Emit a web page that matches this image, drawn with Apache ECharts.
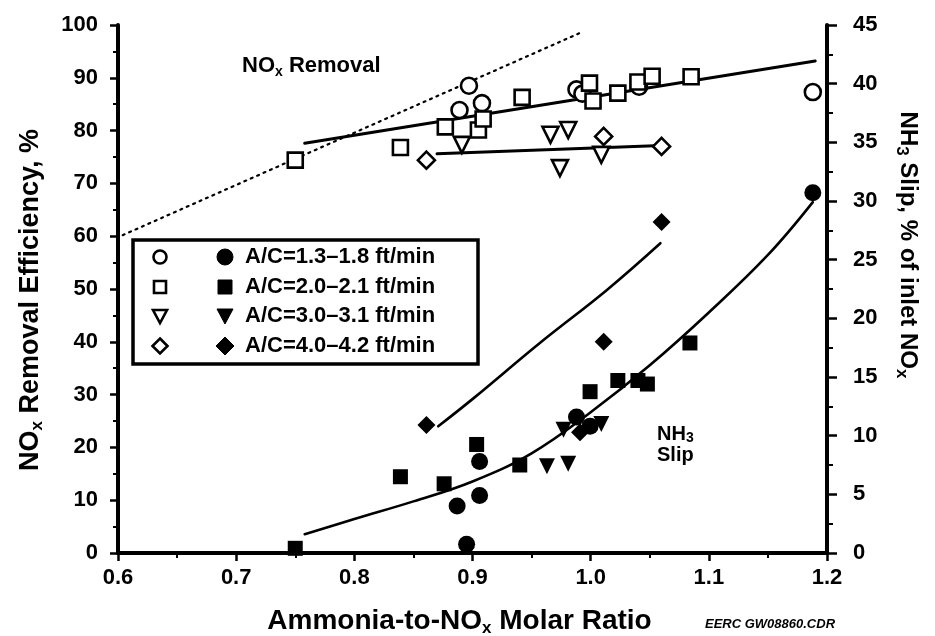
<!DOCTYPE html>
<html>
<head>
<meta charset="utf-8">
<script src="https://cdn.jsdelivr.net/npm/echarts@6/dist/echarts.min.js"></script>
<style>
  html, body { margin: 0; padding: 0; background: #fff; }
  #chart { width: 935px; height: 636px; }
</style>
</head>
<body>
<div id="chart"></div>
<script>
// ---- Data: NOx removal (left axis, %) ----
const removalAC13 = [[0.897, 88.5], [0.889, 83.9], [0.908, 85.2], [0.988, 87.8], [0.993, 87.0], [1.041, 88.3], [1.188, 87.3]];
const removalAC20 = [[0.750, 74.4], [0.839, 76.8], [0.877, 80.7], [0.905, 80.1], [0.909, 82.2], [0.942, 86.3], [0.999, 89.0], [1.002, 85.6], [1.023, 87.1], [1.040, 89.2], [1.052, 90.3], [1.085, 90.2]];
const removalAC30 = [[0.891, 77.3], [0.966, 79.2], [0.981, 80.1], [0.974, 72.9], [1.009, 75.4]];
const removalAC40 = [[0.861, 74.4], [1.011, 78.9], [1.060, 77.0]];

// ---- Data: NH3 slip (right axis, % of inlet NOx) ----
const slipAC13 = [[0.887, 4.0], [0.895, 0.75], [0.906, 4.9], [0.906, 7.8], [0.988, 11.6], [0.9995, 10.8], [1.188, 30.7]];
const slipAC20 = [[0.750, 0.4], [0.839, 6.5], [0.876, 5.9], [0.9035, 9.25], [0.940, 7.5], [0.9995, 13.75], [1.023, 14.7], [1.040, 14.7], [1.048, 14.4], [1.084, 17.9]];
const slipAC30 = [[0.963, 7.4], [0.981, 7.6], [0.977, 10.5], [1.009, 11.0]];
const slipAC40 = [[0.861, 10.9], [0.991, 10.3], [1.011, 18.0], [1.060, 28.2]];

// ---- Fitted / reference curves ----
const removalFitMain = [[0.758, 77.6], [1.190, 93.2]];
const removalFitHighAC = [[0.870, 75.6], [1.060, 77.2]];
const stoichiometricLine = [[0.604, 60.2], [0.992, 98.6]];
const slipFitMain = [[0.758, 1.6], [0.80, 2.9], [0.85, 4.4], [0.90, 6.1], [0.95, 8.5], [1.00, 12.0], [1.05, 16.0], [1.10, 20.5], [1.15, 25.4], [1.188, 29.9]];
const slipFitHighAC = [[0.871, 10.8], [0.901, 13.2], [0.957, 17.9], [1.0135, 22.4], [1.059, 26.4]];

// ---- Labels ----
const seriesLabels = ['A/C=1.3\u20131.8 ft/min', 'A/C=2.0\u20132.1 ft/min', 'A/C=3.0\u20133.1 ft/min', 'A/C=4.0\u20134.2 ft/min'];
const xRange = [0.6, 1.2];
const leftRange = [0, 100];
const rightRange = [0, 45];

const FONT = '"Liberation Sans", Arial, Helvetica, sans-serif';
const symbols = ['circle', 'rect', 'triangle', 'diamond'];
const symbolRot = [0, 0, 180, 0];
const openSizes = [16, 15, 16, [17, 17]];
const filledSizes = [17, 15, 16, [18, 18]];

const removalSets = [removalAC13, removalAC20, removalAC30, removalAC40];
const slipSets = [slipAC13, slipAC20, slipAC30, slipAC40];

const series = [];

function lineSeries(data, yIdx, width, dashed, smooth) {
  return {
    type: 'line', data: data, yAxisIndex: yIdx, xAxisIndex: 0,
    showSymbol: false, symbol: 'none', smooth: smooth || false, z: 2,
    lineStyle: { color: '#000', width: width, type: dashed ? [2, 5] : 'solid', cap: 'round', opacity: 1 },
    silent: true
  };
}

series.push(lineSeries(stoichiometricLine, 0, 2.2, true));
series.push(lineSeries(removalFitMain, 0, 3));
series.push(lineSeries(removalFitHighAC, 0, 3));
series.push(lineSeries(slipFitMain, 1, 2.6, false, 0.4));
series.push(lineSeries(slipFitHighAC, 1, 2.6, false, 0.4));

removalSets.forEach((d, i) => {
  series.push({
    type: 'scatter', name: seriesLabels[i] + ' (NOx)', data: d, yAxisIndex: 0,
    symbol: symbols[i], symbolRotate: symbolRot[i], symbolSize: openSizes[i], z: 5,
    itemStyle: { color: '#fff', borderColor: '#000', borderWidth: 2.6, opacity: 1 }
  });
});
slipSets.forEach((d, i) => {
  series.push({
    type: 'scatter', name: seriesLabels[i], data: d, yAxisIndex: 1,
    symbol: symbols[i], symbolRotate: symbolRot[i], symbolSize: filledSizes[i], z: 6,
    itemStyle: { color: '#000', borderColor: '#000', borderWidth: 0, opacity: 1 }
  });
});

// Legend key drawn as a boxed block with hollow / solid markers
const legendRowsY = [257, 287, 316, 346];
const openX = 160, solidX = 225, textX = 245;
function keyShape(kind, cx, cy, filled) {
  const style = filled ? { fill: '#000', stroke: '#000', lineWidth: 1 } : { fill: '#fff', stroke: '#000', lineWidth: 2.6 };
  if (kind === 'circle') return { type: 'circle', shape: { cx: cx, cy: cy, r: filled ? 8 : 6.5 }, style: style };
  if (kind === 'rect') {
    const h = filled ? 7 : 6;
    return { type: 'rect', shape: { x: cx - h, y: cy - h, width: 2 * h, height: 2 * h }, style: style };
  }
  if (kind === 'triangle') {
    const w = filled ? 8 : 7;
    return { type: 'polygon', shape: { points: [[cx - w, cy - w + 1], [cx + w, cy - w + 1], [cx, cy + w]] }, style: style };
  }
  const r = filled ? 9 : 7.5;
  return { type: 'polygon', shape: { points: [[cx, cy - r], [cx + r, cy], [cx, cy + r], [cx - r, cy]] }, style: style };
}
const graphics = [
  { type: 'rect', shape: { x: 133, y: 240, width: 345, height: 124 }, style: { fill: '#fff', stroke: '#000', lineWidth: 3.5 }, z: 10 }
];
seriesLabels.forEach((lab, i) => {
  const y = legendRowsY[i];
  graphics.push(Object.assign(keyShape(symbols[i], openX, y, false), { z: 11 }));
  graphics.push(Object.assign(keyShape(symbols[i], solidX, y, true), { z: 11 }));
  graphics.push({ type: 'text', x: textX, y: y, z: 11,
    style: { text: lab, fill: '#000', font: 'bold 22px ' + FONT, verticalAlign: 'middle', align: 'left' } });
});

const subRich = {
  sub: { fontSize: 14, fontWeight: 'bold', fontFamily: FONT, lineHeight: 14, verticalAlign: 'bottom' }
};

graphics.push({ type: 'text', x: 242, y: 66, z: 11,
  style: { text: 'NO{sub|x} Removal', fill: '#000', font: 'bold 22px ' + FONT, verticalAlign: 'middle', lineHeight: 26, rich: subRich } });
graphics.push({ type: 'text', x: 657, y: 424, z: 11,
  style: { text: 'NH{sub|3}\nSlip', fill: '#000', font: 'bold 20px ' + FONT, verticalAlign: 'top', lineHeight: 21, rich: subRich } });
graphics.push({ type: 'text', x: 705, y: 624, z: 11,
  style: { text: 'EERC GW08860.CDR', fill: '#000', font: 'italic bold 13px ' + FONT, verticalAlign: 'middle' } });

const axisLineStyle = { color: '#000', width: 4 };
const nameRich = {
  sub: { fontSize: 17, fontWeight: 'bold', fontFamily: FONT, lineHeight: 17, verticalAlign: 'bottom' }
};

const option = {
  animation: false,
  backgroundColor: '#fff',
  grid: { left: 118, right: 108, top: 25, bottom: 83, containLabel: false, outerBoundsMode: 'none' },
  xAxis: [
    {
      type: 'value', min: xRange[0], max: xRange[1], interval: 0.1, position: 'bottom',
      name: 'Ammonia-to-NO{sub|x} Molar Ratio', nameLocation: 'middle', nameGap: 52,
      nameTextStyle: { fontSize: 28, fontWeight: 'bold', fontFamily: FONT, color: '#000', lineHeight: 32, padding: [0, 26, 0, 0], rich: nameRich },
      axisLine: { lineStyle: axisLineStyle },
      axisTick: { length: 8, lineStyle: { width: 2.5, color: '#000' } },
      minorTick: { show: true, splitNumber: 2, length: 5, lineStyle: { width: 2, color: '#000' } },
      splitLine: { show: false },
      axisLabel: { margin: 14, fontSize: 22, fontWeight: 'bold', fontFamily: FONT, color: '#000', formatter: v => v.toFixed(1) }
    },
    {
      type: 'value', min: xRange[0], max: xRange[1], position: 'top',
      axisLine: { lineStyle: axisLineStyle }, axisTick: { show: false }, axisLabel: { show: false }, splitLine: { show: false }
    }
  ],
  yAxis: [
    {
      type: 'value', min: leftRange[0], max: leftRange[1], interval: 10, position: 'left',
      name: 'NO{sub|x} Removal Efficiency, %', nameLocation: 'middle', nameGap: 72, nameRotate: 90,
      nameTextStyle: { fontSize: 27, fontWeight: 'bold', fontFamily: FONT, color: '#000', lineHeight: 30, padding: [0, 22, 0, 0], rich: nameRich },
      axisLine: { show: true, lineStyle: axisLineStyle },
      axisTick: { length: 8, lineStyle: { width: 2.5, color: '#000' } },
      minorTick: { show: true, splitNumber: 2, length: 5, lineStyle: { width: 2, color: '#000' } },
      splitLine: { show: false },
      axisLabel: { margin: 20, fontSize: 22, fontWeight: 'bold', fontFamily: FONT, color: '#000' }
    },
    {
      type: 'value', min: rightRange[0], max: rightRange[1], interval: 5, position: 'right',
      name: 'NH{sub|3} Slip, % of inlet NO{sub|x}', nameLocation: 'middle', nameGap: 66, nameRotate: -90,
      nameTextStyle: { fontSize: 24, fontWeight: 'bold', fontFamily: FONT, color: '#000', lineHeight: 30, padding: [0, 88, 0, 0], rich: nameRich },
      axisLine: { show: true, lineStyle: axisLineStyle },
      axisTick: { length: 10, lineStyle: { width: 2.5, color: '#000' } },
      minorTick: { show: true, splitNumber: 2, length: 6, lineStyle: { width: 2, color: '#000' } },
      splitLine: { show: false },
      axisLabel: { margin: 26, fontSize: 22, fontWeight: 'bold', fontFamily: FONT, color: '#000' }
    }
  ],
  graphic: graphics,
  series: series
};

const chart = echarts.init(document.getElementById('chart'), null, { renderer: 'canvas' });
chart.setOption(option);
</script>
</body>
</html>
